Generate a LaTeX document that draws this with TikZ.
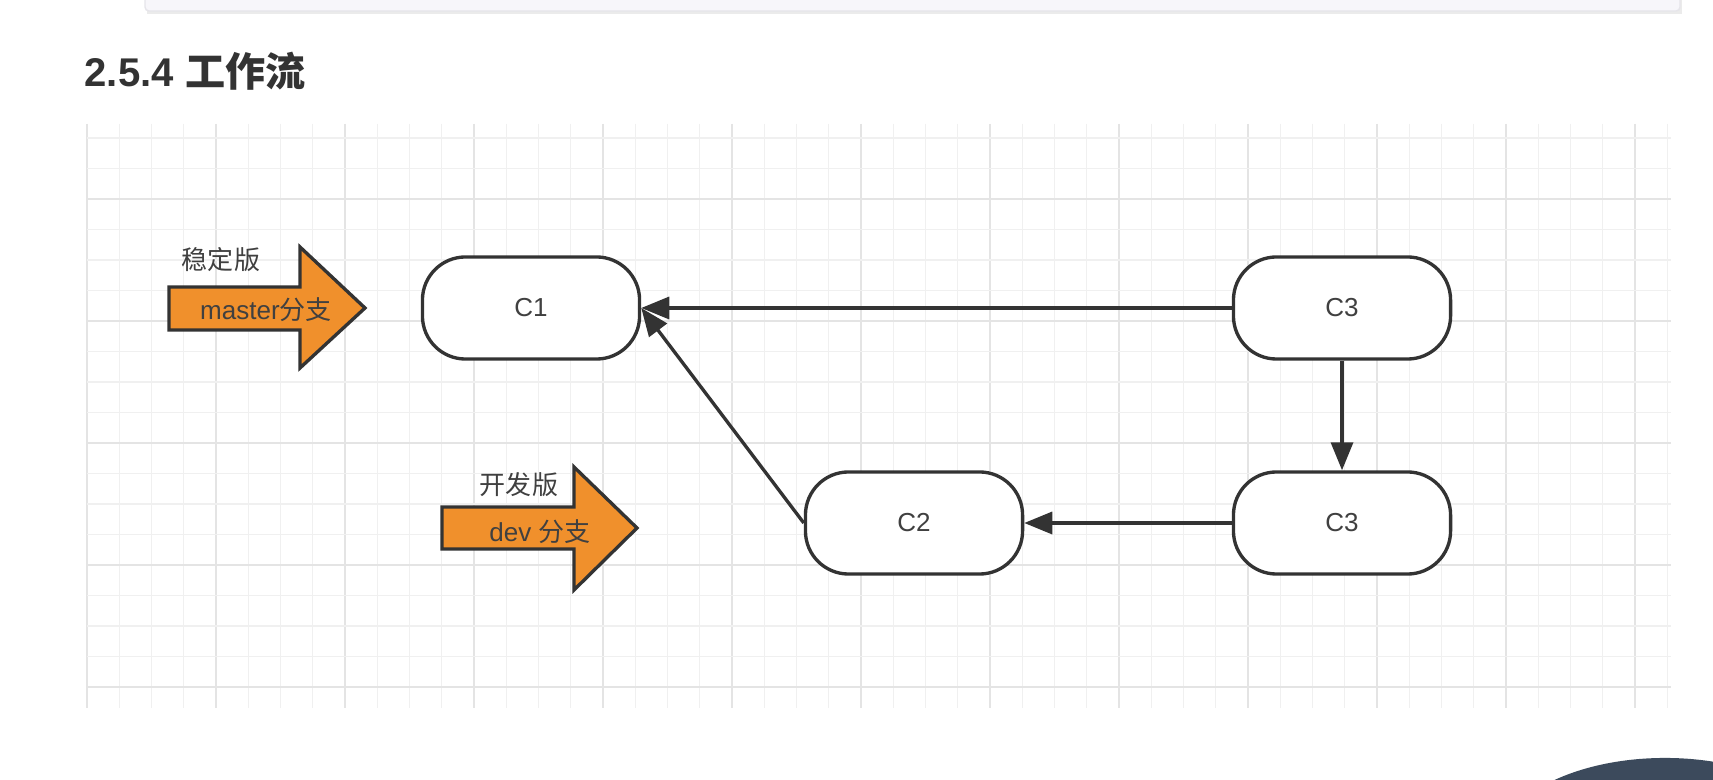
\documentclass[tikz,border=0pt]{standalone}
\usepackage{fontspec}
\setmainfont{Liberation Sans}
\newfontfamily\cjk{Noto Sans CJK SC}
\usetikzlibrary{arrows.meta}
\definecolor{ink}{HTML}{333333}
\definecolor{txt}{HTML}{404040}
\definecolor{gridminor}{HTML}{F0F0F0}
\definecolor{gridmajor}{HTML}{E4E4E4}
\definecolor{orangefill}{HTML}{F0902C}
\definecolor{boxfill}{HTML}{F7F6FA}
\definecolor{boxline}{HTML}{E6E5EA}
\definecolor{logo}{HTML}{3C4A5C}
\tikzset{
  commit/.style={draw=ink, line width=0.95pt, fill=white, rounded corners=0.43cm,
    minimum width=2.17cm, minimum height=1.02cm, inner sep=0pt,
    font=\fontsize{7.4pt}{9pt}\selectfont, text=txt},
  edge/.style={draw=ink, line width=0.95pt, -{Triangle[length=0.28cm, width=0.22cm]}},
  blockarrow/.style={draw=ink, line width=0.95pt, fill=orangefill, line join=miter},
  lbl/.style={font=\fontsize{7.4pt}{9pt}\selectfont, text=txt, inner sep=0pt},
}
\begin{document}
\begin{tikzpicture}[x=0.01cm, y=-0.01cm]
\useasboundingbox (0,0) rectangle (1713,780);
\fill[white] (0,0) rectangle (1713,780);
% top box with shadow
\fill[black!8] (147,-10) rectangle (1682,14);
\draw[boxline, fill=boxfill, rounded corners=0.04cm] (145,-12) rectangle (1680,11);
% title
\node[anchor=west, inner sep=0pt, text=ink, font=\fontsize{11.4pt}{13pt}\selectfont\bfseries] (title) at (84,71) {2.5.4 {\cjk\bfseries 工作流}};
% grid
\foreach \k in {0,...,49} {
  \pgfmathsetmacro{\xx}{87+32.25*\k}
  \pgfmathtruncatemacro{\m}{mod(\k,4)}
  \ifnum\m=0
    \draw[gridmajor, line width=0.45pt] (\xx,124) -- (\xx,708);
  \else
    \draw[gridminor, line width=0.35pt] (\xx,124) -- (\xx,708);
  \fi
}
\foreach \k in {-2,...,16} {
  \pgfmathsetmacro{\yy}{199+30.5*\k}
  \pgfmathtruncatemacro{\m}{mod(\k+8,4)}
  \ifnum\m=0
    \draw[gridmajor, line width=0.45pt] (87,\yy) -- (1671,\yy);
  \else
    \draw[gridminor, line width=0.35pt] (87,\yy) -- (1671,\yy);
  \fi
}
% block arrows
\draw[blockarrow] (169,287) -- (300,287) -- (300,247) -- (365,308) -- (300,368) -- (300,330) -- (169,330) -- cycle;
\draw[blockarrow] (442,507) -- (574,507) -- (574,467) -- (637,528) -- (574,590) -- (574,549) -- (442,549) -- cycle;
\node[lbl] (stable) at (221,260) {\cjk 稳定版};
\node[lbl] (master) at (266,310) {master{\cjk 分支}};
\node[lbl] (devlbl) at (519,485) {\cjk 开发版};
\node[lbl] (dev) at (540,532) {dev {\cjk 分支}};
% commits
\node[commit] (c1) at (531,308) {C1};
\node[commit] (c3a) at (1342,308) {C3};
\node[commit] (c2) at (914,523) {C2};
\node[commit] (c3b) at (1342,523) {C3};
% connectors
\draw[edge] (c3a.west) -- (c1.east);
\draw[edge] (c3a.south) -- (c3b.north);
\draw[edge] (c3b.west) -- (c2.east);
\draw[edge] (c2.west) -- (c1.east);
% logo corner
\begin{scope}
\clip (0,0) rectangle (1713,780);
\fill[logo] (1665,850) ellipse [x radius=1.7cm, y radius=0.92cm];
\end{scope}
\end{tikzpicture}
\end{document}
